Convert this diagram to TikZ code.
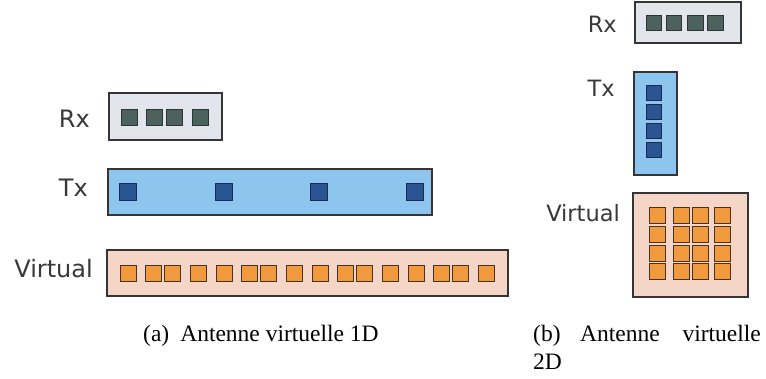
\documentclass[tikz,border=0pt]{standalone}
\usepackage{fontspec}
\setmainfont{Liberation Serif}
\newfontfamily\labfont{DejaVu Sans}
\definecolor{rxfill}{HTML}{E2E5EC}
\definecolor{rxsqfill}{HTML}{4E625D}
\definecolor{rxsqline}{HTML}{2C3634}
\definecolor{txfill}{HTML}{8EC5EE}
\definecolor{txsqfill}{HTML}{2A5592}
\definecolor{txsqline}{HTML}{1A2D50}
\definecolor{vfill}{HTML}{F4D5C6}
\definecolor{vsqfill}{HTML}{F29A3E}
\definecolor{vsqline}{HTML}{4A3222}
\definecolor{boxline}{HTML}{353535}
\definecolor{labcol}{HTML}{383838}
\begin{document}
\begin{tikzpicture}[x=1pt,y=-1pt,
  panelbox/.style={draw=boxline,line width=1.4pt},
  sqbase/.style={rectangle,inner sep=0pt,minimum size=16pt,line width=0.9pt},
  rxsq/.style={sqbase,fill=rxsqfill,draw=rxsqline},
  txsq/.style={sqbase,fill=txsqfill,draw=txsqline},
  vsq/.style={sqbase,fill=vsqfill,draw=vsqline},
  lab/.style={inner sep=0pt,anchor=base east,text=labcol,font=\labfont\fontsize{24}{28}\selectfont},
  labr/.style={lab,font=\labfont\fontsize{22.5}{27}\selectfont},
  captxt/.style={inner sep=0pt,text=black,font=\fontsize{23.5}{27}\selectfont}]
\useasboundingbox (0,0) rectangle (766,379);
\fill[white] (0,0) rectangle (766,379);

% ---------- panel (a) ----------
\draw[panelbox,fill=rxfill] (109,93) rectangle (222,140);
\draw[panelbox,fill=txfill] (108,169) rectangle (432,215);
\draw[panelbox,fill=vfill] (107,250) rectangle (508,296);

\node[lab] (rxlabA) at (90,128) {Rx};
\node[lab] (txlabA) at (88,197) {Tx};
\node[lab] (vlabA) at (93,278) {Virtual};

\foreach \x [count=\i] in {129,154.5,174.5,200}
  \node[rxsq] (rxA\i) at (\x,117.5) {};
\foreach \x [count=\i] in {128,223.5,319,414.5}
  \node[txsq,minimum size=17pt] (txA\i) at (\x,192) {};
\foreach \t [count=\j] in {128,224,320,416}
  \foreach \o [count=\i] in {0,25,44.5,70}
    \node[vsq] (vA\j\i) at (\t+\o,273) {};

\node[captxt,anchor=base west] (capA) at (143,342) {(a)\hspace{11pt}Antenne virtuelle 1D};

% ---------- panel (b) ----------
\draw[panelbox,fill=rxfill] (635,2) rectangle (741,43);
\draw[panelbox,fill=txfill] (634,72) rectangle (677,175);
\draw[panelbox,fill=vfill] (633,193) rectangle (748,297);

\node[labr] (rxlabB) at (617,33) {Rx};
\node[labr] (txlabB) at (615,97) {Tx};
\node[labr] (vlabB) at (620,222) {Virtual};

\foreach \x [count=\i] in {654,674,695.5,715.5}
  \node[rxsq,minimum size=15.5pt] (rxB\i) at (\x,23) {};
\foreach \y [count=\i] in {93,111.5,130.5,149.5}
  \node[txsq,minimum size=15pt] (txB\i) at (653.5,\y) {};
\foreach \y [count=\j] in {215,234,253,271.5}
  \foreach \x [count=\i] in {657.5,681,700.5,722}
    \node[vsq] (vB\j\i) at (\x,\y) {};

\node[captxt,anchor=base west] (capB1) at (533,342) {(b)};
\node[captxt,anchor=base west] (capB2) at (580,342) {Antenne};
\node[captxt,anchor=base east] (capB3) at (761,342) {virtuelle};
\node[captxt,anchor=base west] (capB4) at (533,370) {2D};
\end{tikzpicture}
\end{document}
